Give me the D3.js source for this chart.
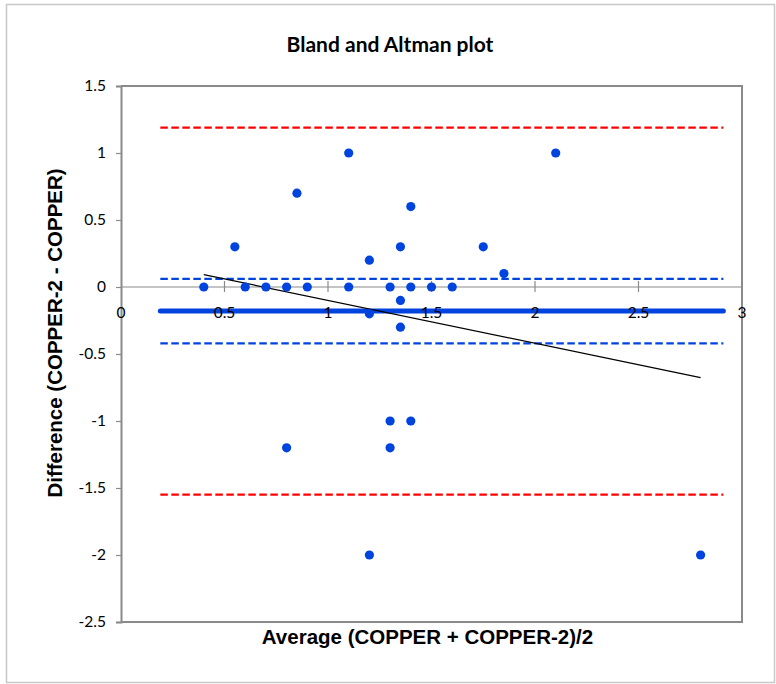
<!DOCTYPE html>
<html>
<head>
<meta charset="utf-8">
<script src="https://cdn.jsdelivr.net/npm/d3@7"></script>
<style>
  html, body { margin: 0; padding: 0; background: #fff; }
  svg { display: block; }
</style>
</head>
<body>
<svg id="chart" width="776" height="684"></svg>
<script>
// ---- data ----
const avgValues  = [0.40, 0.55, 0.60, 0.70, 0.80, 0.80, 0.85, 0.90, 1.10, 1.10, 1.20, 1.20, 1.20, 1.30, 1.30, 1.30, 1.35, 1.35, 1.35, 1.40, 1.40, 1.40, 1.50, 1.60, 1.75, 1.85, 2.10, 2.80];
const diffValues = [0.0, 0.3, 0.0, 0.0, 0.0, -1.2, 0.7, 0.0, 1.0, 0.0, 0.2, -0.2, -2.0, 0.0, -1.0, -1.2, 0.3, -0.1, -0.3, 0.6, 0.0, -1.0, 0.0, 0.0, 0.3, 0.1, 1.0, -2.0];
const meanDiff = -0.18;
const ciUpper = 0.06;
const ciLower = -0.42;
const loaUpper = 1.19;
const loaLower = -1.55;
const refLineRange = [0.19, 2.91];
const regIntercept = 0.22;
const regSlope = -0.32;
const regRange = [0.40, 2.80];
const xTicks = [0, 0.5, 1, 1.5, 2, 2.5, 3];
const yTicks = [1.5, 1, 0.5, 0, -0.5, -1, -1.5, -2, -2.5];

// ---- layout ----
const svg = d3.select("#chart");
const x = d3.scaleLinear().domain([0, 3]).range([121, 742]);
const y = d3.scaleLinear().domain([-2.5, 1.5]).range([622, 86]);
const blue = "#0044e0";
const tickFont = "Lato, 'Open Sans', sans-serif";
const fmt = d => d3.format("~g")(d).replace("\u2212", "-");

// outer border
svg.append("rect").attr("x", 6.5).attr("y", 4.5).attr("width", 768).attr("height", 678)
  .attr("fill", "#fff").attr("stroke", "#c8c8c8").attr("stroke-width", 1.5);

// title
svg.append("text").attr("x", 390).attr("y", 52).attr("text-anchor", "middle")
  .attr("font-family", tickFont).attr("font-weight", "bold").attr("font-size", 21)
  .attr("fill", "#000").text("Bland and Altman plot");

// plot area border (top, right, bottom)
svg.append("path")
  .attr("d", `M${x(0)},${y(1.5)}H${x(3)}V${y(-2.5)}H${x(0)}`)
  .attr("fill", "none").attr("stroke", "#8a8a8a").attr("stroke-width", 2);

// y axis
const yAxis = d3.axisLeft(y).tickValues(yTicks).tickSize(5).tickPadding(10).tickFormat(fmt);
const gy = svg.append("g").attr("transform", `translate(${x(0)},0)`).call(yAxis);
gy.select(".domain").attr("stroke", "#8a8a8a").attr("stroke-width", 2);
gy.selectAll(".tick line").attr("stroke", "#8a8a8a").attr("stroke-width", 1.2);
gy.selectAll(".tick text").attr("font-family", tickFont).attr("font-size", 15.5).attr("fill", "#000");

// x axis at y = 0 (line + crossing ticks)
const gx = svg.append("g").attr("transform", `translate(0,${y(0)})`);
gx.append("line").attr("x1", x(0)).attr("x2", x(3)).attr("y1", 0).attr("y2", 0)
  .attr("stroke", "#8a8a8a").attr("stroke-width", 1.2);
gx.selectAll("line.xt").data(xTicks.slice(1, -1)).join("line").attr("class", "xt")
  .attr("x1", d => x(d)).attr("x2", d => x(d)).attr("y1", -6).attr("y2", 5)
  .attr("stroke", "#8a8a8a").attr("stroke-width", 1.2);

// limits of agreement (red dashed), CI of mean (blue dashed), mean (thick blue)
const hline = (val, color, width, dash) => svg.append("line")
  .attr("x1", x(refLineRange[0])).attr("x2", x(refLineRange[1]))
  .attr("y1", y(val)).attr("y2", y(val))
  .attr("stroke", color).attr("stroke-width", width)
  .attr("stroke-dasharray", dash).attr("stroke-linecap", dash ? "butt" : "round");
hline(loaUpper, "#ff0000", 2.3, "7.5,3.5");
hline(loaLower, "#ff0000", 2.3, "7.5,3.5");
hline(ciUpper, blue, 2.3, "7.5,3.5");
hline(ciLower, blue, 2.3, "7.5,3.5");
hline(meanDiff, blue, 5, null);

// x tick labels (drawn above mean line)
svg.append("g").selectAll("text").data(xTicks).join("text")
  .attr("x", d => x(d)).attr("y", y(0) + 31).attr("text-anchor", "middle")
  .attr("font-family", tickFont).attr("font-size", 15.5).attr("fill", "#000")
  .text(fmt);

// regression line
svg.append("line")
  .attr("x1", x(regRange[0])).attr("y1", y(regIntercept + regSlope * regRange[0]))
  .attr("x2", x(regRange[1])).attr("y2", y(regIntercept + regSlope * regRange[1]))
  .attr("stroke", "#000").attr("stroke-width", 1.2);

// points
svg.append("g").selectAll("circle").data(avgValues.map((a, i) => [a, diffValues[i]])).join("circle")
  .attr("cx", d => x(d[0])).attr("cy", d => y(d[1])).attr("r", 4.6).attr("fill", blue);

// axis titles
svg.append("text").attr("x", (x(0) + x(3)) / 2 - 4).attr("y", 644).attr("text-anchor", "middle")
  .attr("font-family", "'Liberation Sans', Arial, sans-serif").attr("font-weight", "bold")
  .attr("font-size", 20.5).attr("fill", "#000").text("Average (COPPER + COPPER-2)/2");
svg.append("text").attr("transform", "translate(62,333) rotate(-90)").attr("text-anchor", "middle")
  .attr("font-family", "'Liberation Sans', Arial, sans-serif").attr("font-weight", "bold")
  .attr("font-size", 20.5).attr("fill", "#000").text("Difference (COPPER-2 - COPPER)");
</script>
</body>
</html>
